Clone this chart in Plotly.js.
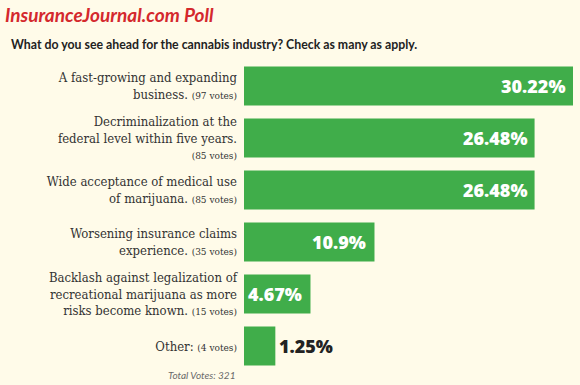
<!DOCTYPE html>
<html>
<head>
<meta charset="utf-8">
<script src="https://cdn.plot.ly/plotly-3.0.1.min.js"></script>
<style>
  html, body { margin: 0; padding: 0; background: #fffbe9; }
  #chart { width: 580px; height: 385px; }
</style>
</head>
<body>
<div id="chart"></div>
<script>
// ---- data ----
const categories = [
  "A fast-growing and expanding<br>business.",
  "Decriminalization at the<br>federal level within five years.",
  "Wide acceptance of medical use<br>of marijuana.",
  "Worsening insurance claims<br>experience.",
  "Backlash against legalization of<br>recreational marijuana as more<br>risks become known.",
  "Other:"
];
const votes = [97, 85, 85, 35, 15, 4];
const percents = [30.22, 26.48, 26.48, 10.9, 4.67, 1.25];
const voteOnOwnLine = [false, true, false, false, false, false];
const totalVotes = 321;
const titleText = "InsuranceJournal.com Poll";
const subtitleText = "What do you see ahead for the cannabis industry? Check as many as apply.";

// ---- style ----
const BG = "#fffbe9";
const GREEN = "#40ad4a";
const PAD = 1.8;           // visual lead-in of each bar, in axis units
const M = { l: 244, r: 7, t: 60, b: 13 };
const W = 580, H = 385;
const plotW = W - M.l - M.r, plotH = H - M.t - M.b;
const px2x = px => (px - M.l) / plotW;
const py2y = py => 1 + (M.t - py) / plotH;

const tickText = categories.map((c, i) =>
  c + (voteOnOwnLine[i] ? "<br>" : " ") +
  '<span style="font-size:10px">(' + votes[i] + ' votes)</span>');

const valueFont = { family: "Open Sans", size: 18, weight: 800 };
const annotations = percents.map((v, i) => {
  const inside = v > 3;
  return {
    x: v, y: categories[i], xref: "x", yref: "y",
    text: v + "%", showarrow: false,
    xanchor: inside ? "right" : "left",
    xshift: inside ? -6 : 2,
    font: Object.assign({}, valueFont, { color: inside ? "#ffffff" : "#222222" })
  };
});
annotations.push({
  xref: "paper", yref: "paper", x: px2x(9), y: py2y(45),
  xanchor: "left", yanchor: "middle", showarrow: false,
  text: "<b>" + subtitleText + "</b>",
  font: { family: "Lato", size: 12.3, color: "#222222" }
});
annotations.push({
  xref: "paper", yref: "paper", x: px2x(237), y: py2y(375),
  xanchor: "right", yanchor: "middle", showarrow: false,
  text: "<i>Total Votes: " + totalVotes + "</i>",
  font: { family: "Lato", size: 10, color: "#6a6a6a" }
});

const trace = {
  type: "bar", orientation: "h",
  y: categories,
  x: percents.map(v => v + PAD),
  base: -PAD,
  marker: { color: GREEN },
  hoverinfo: "skip"
};

const layout = {
  width: W, height: H,
  margin: M,
  paper_bgcolor: BG, plot_bgcolor: BG,
  showlegend: false,
  bargap: 0.25,
  title: {
    text: "<b><i>" + titleText + "</i></b>",
    xref: "container", yref: "container",
    x: 5 / W, xanchor: "left",
    y: 1 - 15 / H, yanchor: "middle",
    font: { family: "Lato", size: 19, color: "#d4282d" }
  },
  xaxis: {
    range: [-PAD, Math.max(...percents)],
    showgrid: false, zeroline: false, showline: false,
    showticklabels: false, fixedrange: true
  },
  yaxis: {
    type: "category", autorange: "reversed",
    tickmode: "array", tickvals: categories, ticktext: tickText,
    showgrid: false, zeroline: false, showline: false,
    ticks: "", ticklabelstandoff: 6,
    tickfont: { family: "DejaVu Serif Condensed", size: 13, color: "#333333" },
    fixedrange: true
  },
  annotations: annotations
};

Plotly.newPlot("chart", [trace], layout, { displayModeBar: false, staticPlot: true });
</script>
</body>
</html>
